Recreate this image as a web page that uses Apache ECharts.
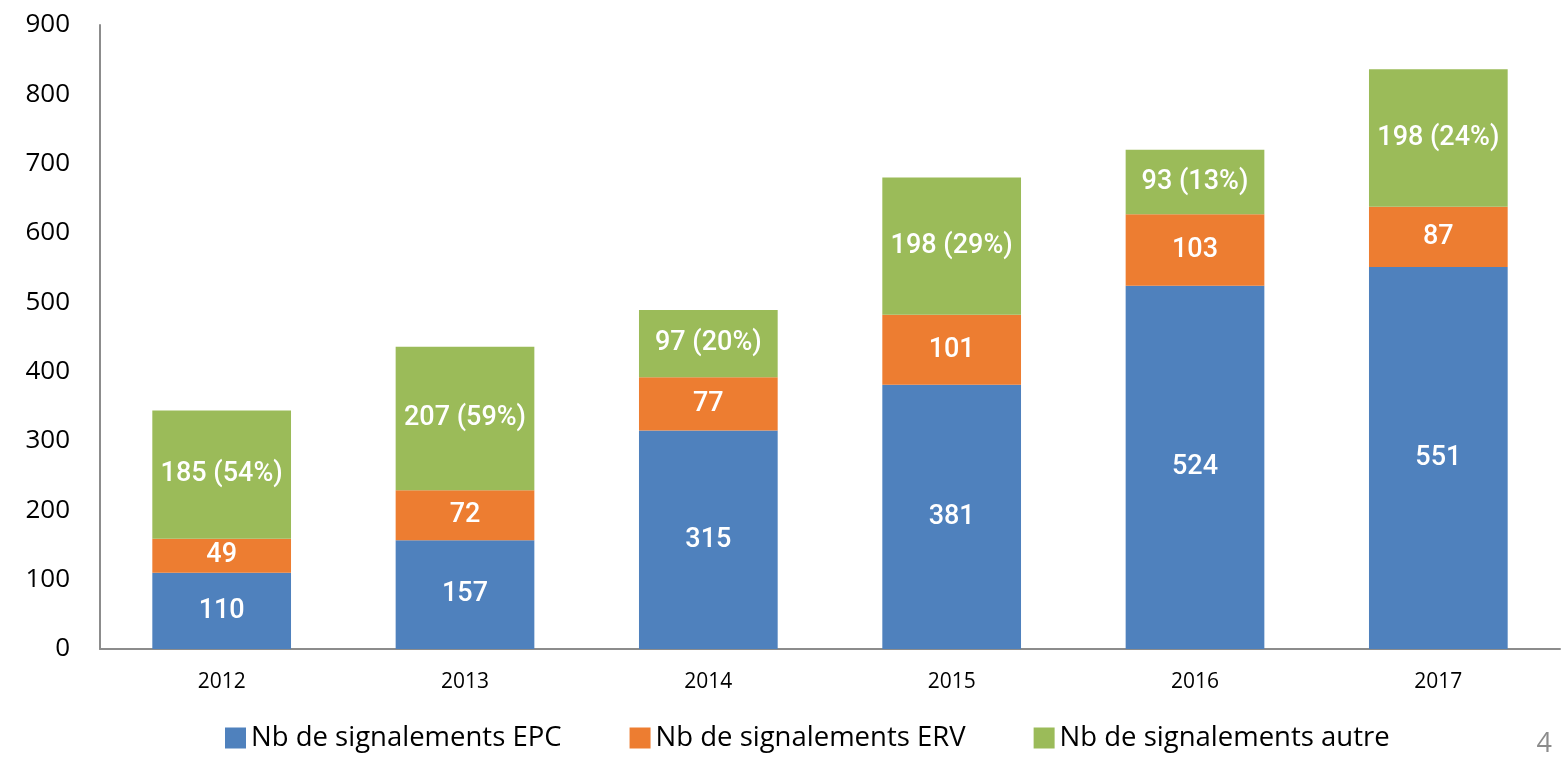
<!DOCTYPE html>
<html>
<head>
<meta charset="utf-8">
<script src="https://cdn.jsdelivr.net/npm/echarts@6/dist/echarts.min.js"></script>
<style>
  html, body { margin: 0; padding: 0; background: #fff; }
  #main { width: 1568px; height: 760px; }
</style>
</head>
<body>
<div id="main"></div>
<script>
var years = ['2012', '2013', '2014', '2015', '2016', '2017'];
var epc = [110, 157, 315, 381, 524, 551];
var erv = [49, 72, 77, 101, 103, 87];
var autre = [185, 207, 97, 198, 93, 198];
var autrePct = ['54%', '59%', '20%', '29%', '13%', '24%'];

var fontMain = '"Open Sans", sans-serif';

var labelStyle = {
	show: true,
	position: 'inside',
	color: '#fff',
	fontSize: 27,
	fontWeight: 500,
	fontFamily: 'Roboto, sans-serif'
};

var myChart = echarts.init(document.getElementById('main'));
var option = {
	backgroundColor: '#ffffff',
	animation: false,
	grid: {
		left: 100,
		right: 8,
		top: 25,
		bottom: 111
	},
	legend: {
		bottom: 3,
		left: 220,
		itemWidth: 21,
		itemHeight: 21,
		itemGap: 68,
		itemTextGap: 6,
		icon: 'rect',
		textStyle: {
			fontSize: 27.5,
			color: '#000',
			fontFamily: fontMain
		},
		data: ['Nb de signalements EPC', 'Nb de signalements ERV', 'Nb de signalements autre']
	},
	xAxis: {
		type: 'category',
		data: years,
		axisLine: { lineStyle: { color: '#8c8c8c', width: 2 } },
		axisTick: { show: false },
		axisLabel: {
			color: '#000',
			fontSize: 21,
			margin: 23,
			fontFamily: fontMain
		}
	},
	yAxis: {
		type: 'value',
		min: 0,
		max: 900,
		interval: 100,
		splitLine: { show: false },
		axisLine: { show: true, lineStyle: { color: '#8c8c8c', width: 2 } },
		axisTick: { show: false },
		axisLabel: {
			color: '#000',
			fontSize: 26,
			margin: 30,
			fontFamily: fontMain
		}
	},
	series: [{
		name: 'Nb de signalements EPC',
		type: 'bar',
		stack: 'total',
		barWidth: '57%',
		data: epc,
		itemStyle: { color: '#4f81bd' },
		label: labelStyle
	}, {
		name: 'Nb de signalements ERV',
		type: 'bar',
		stack: 'total',
		data: erv,
		itemStyle: { color: '#ed7d31' },
		label: labelStyle
	}, {
		name: 'Nb de signalements autre',
		type: 'bar',
		stack: 'total',
		data: autre,
		itemStyle: { color: '#9bbb59' },
		label: Object.assign({}, labelStyle, {
			formatter: function(p) {
				return p.value + ' (' + autrePct[p.dataIndex] + ')';
			}
		})
	}],
	graphic: [{
		type: 'text',
		right: 16,
		bottom: 2,
		style: {
			text: '4',
			fontSize: 27,
			fill: '#8c8c8c',
			fontFamily: fontMain
		}
	}]
};

myChart.setOption(option);
</script>
</body>
</html>
